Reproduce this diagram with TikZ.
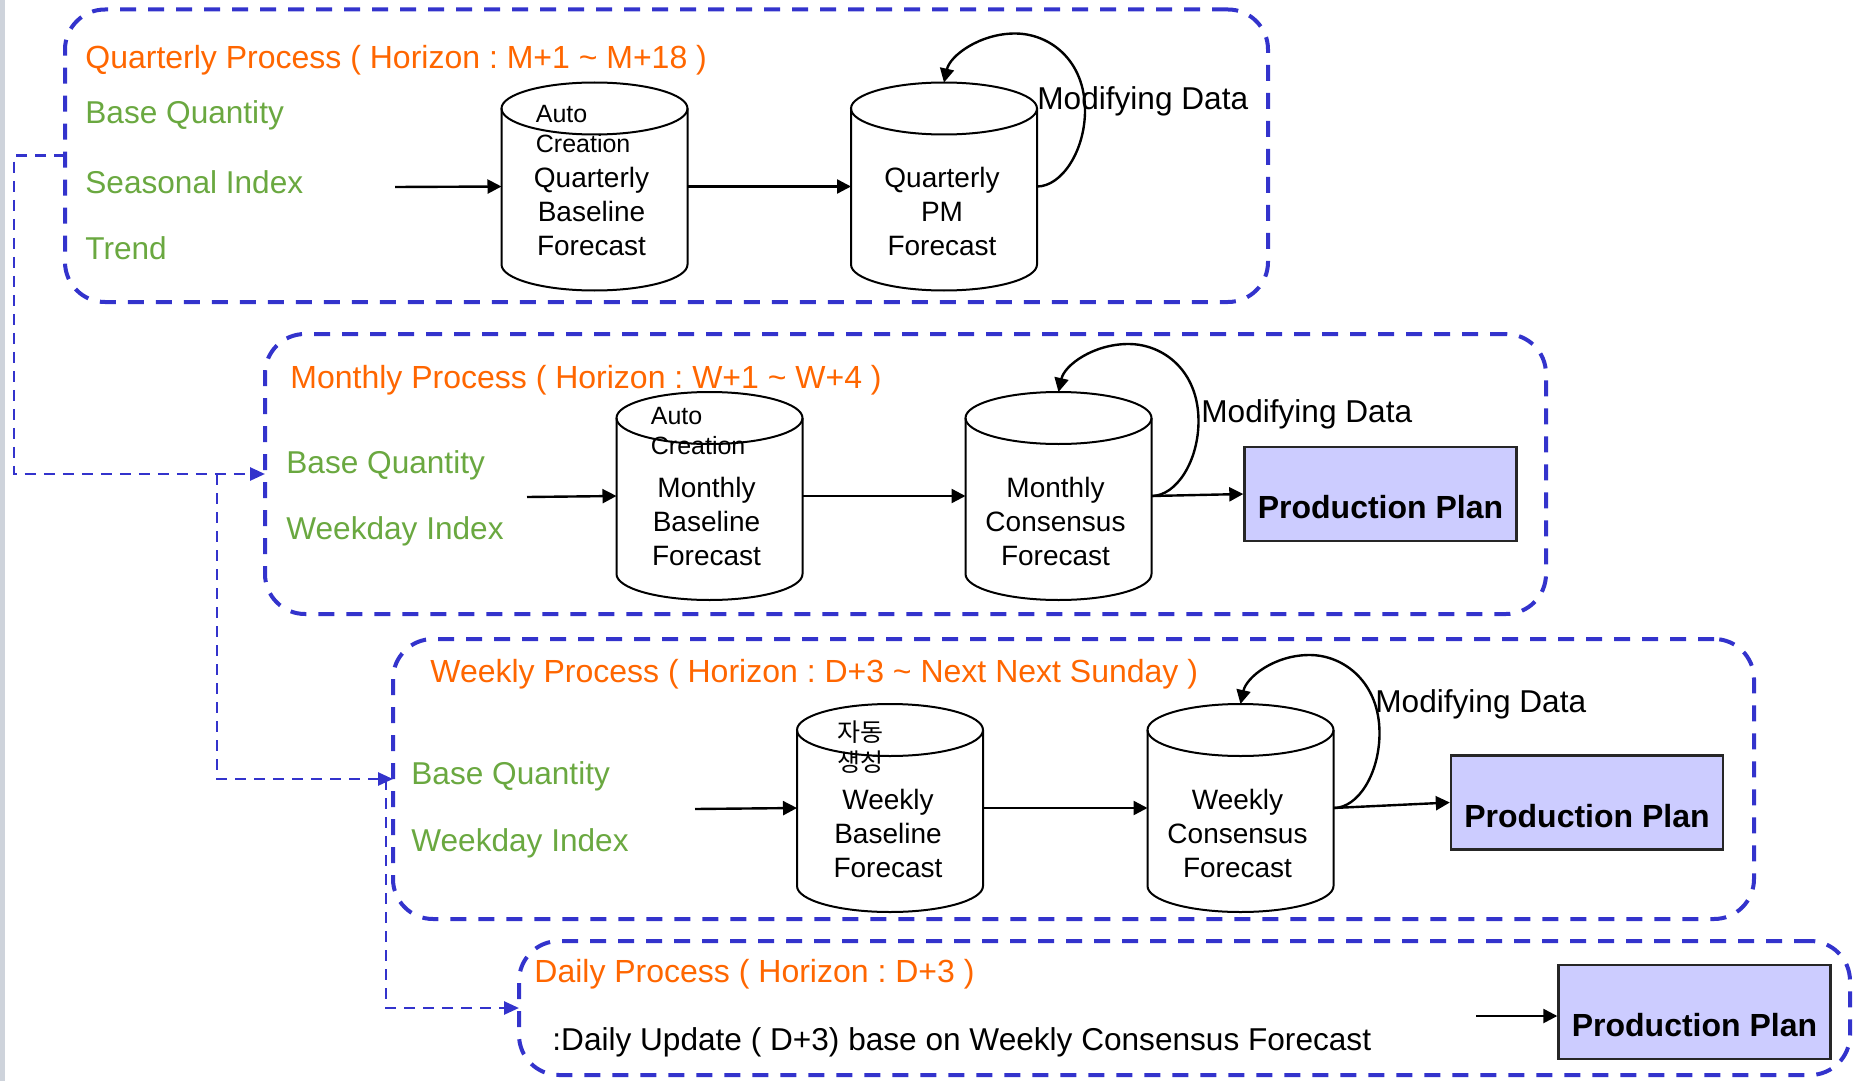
\documentclass[tikz,border=0pt]{standalone}
\usepackage{fontspec}
\setmainfont{Liberation Sans}
\newfontfamily\krfont{Noto Sans CJK KR}
\usepackage{xcolor}
\usetikzlibrary{arrows.meta}
\definecolor{procblue}{RGB}{51,51,204}
\definecolor{titleorange}{RGB}{255,102,0}
\definecolor{itemgreen}{RGB}{106,168,64}
\definecolor{planfill}{RGB}{204,204,255}
\definecolor{edgegray}{RGB}{206,211,219}
\frenchspacing

\begin{document}
\begin{tikzpicture}[x=0.5pt,y=-0.5pt,
  procbox/.style={draw=procblue,line width=2pt,dash pattern=on 8pt off 6pt,rounded corners=20pt,inner sep=0pt,outer sep=0pt},
  proctitle/.style={anchor=west,inner sep=0pt,text=titleorange,font=\fontsize{16pt}{19pt}\selectfont},
  inlabel/.style={anchor=west,inner sep=0pt,text=itemgreen,font=\fontsize{15.8pt}{19pt}\selectfont},
  cylbody/.style={minimum width=93pt,minimum height=104pt,inner sep=0pt,outer sep=0pt},
  cyltext/.style={align=center,inner sep=0pt,font=\fontsize{14pt}{17pt}\selectfont},
  autotext/.style={anchor=west,align=left,inner sep=0pt,font=\fontsize{12.5pt}{15pt}\selectfont},
  planbox/.style={draw=black!85,fill=planfill,line width=1.2pt,minimum width=136pt,minimum height=47pt,text height=24.5pt,text depth=0pt,inner sep=0pt,font=\fontsize{16pt}{19pt}\selectfont\bfseries},
  moddata/.style={anchor=west,inner sep=0pt,font=\fontsize{15.8pt}{19pt}\selectfont},
  flow/.style={line width=1.2pt,-{Triangle[length=7pt,width=7pt]}},
  feedlink/.style={draw=procblue,line width=1.35pt,dash pattern=on 5.5pt off 4pt,-{Triangle[length=7.5pt,width=6.5pt]}}]
\useasboundingbox (0,0) rectangle (1858,1081);
\fill[edgegray] (0,0) rectangle (5,1081);

% process frames
\node (qbox) at (666.5,155.75) [procbox,minimum width=601.5pt,minimum height=146.25pt] {};
\node (mbox) at (905.5,474) [procbox,minimum width=640.5pt,minimum height=140pt] {};
\node (wbox) at (1073.5,779) [procbox,minimum width=680.5pt,minimum height=140pt] {};
\node (dbox) at (1184.5,1008) [procbox,minimum width=665.5pt,minimum height=67pt] {};

\node (qtitle) at (85,60.5) [proctitle] {Quarterly Process ( Horizon : M+1 \textasciitilde{} M+18 )};
\node (mtitle) at (290,380.5) [proctitle] {Monthly Process ( Horizon : W+1 \textasciitilde{} W+4 )};
\node (wtitle) at (430,674.5) [proctitle] {Weekly Process ( Horizon : D+3 \textasciitilde{} Next Next Sunday )};
\node (dtitle) at (534,974.5) [proctitle] {Daily Process ( Horizon : D+3 )};

\node (qbase) at (85,115.5) [inlabel] {Base Quantity};
\node (qseas) at (85,182) [inlabel] {Seasonal Index};
\node (qtrend) at (85,248.5) [inlabel] {Trend};
\node (mbase) at (286,465.5) [inlabel] {Base Quantity};
\node (mweek) at (286,531.5) [inlabel] {Weekday Index};
\node (wbase) at (411,776.5) [inlabel] {Base Quantity};
\node (wweek) at (411,843.5) [inlabel] {Weekday Index};
\node (dnote) at (552,1042.5) [moddata] {:Daily Update ( D+3) base on Weekly Consensus Forecast};

% cylinders
\node (qb) at (594.5,186.5) [cylbody] {};
\node (qp) at (944,186.5) [cylbody] {};
\node (mb) at (709.5,496) [cylbody] {};
\node (mc) at (1058.5,496) [cylbody] {};
\node (wb) at (890,808) [cylbody] {};
\node (wc) at (1240.5,808) [cylbody] {};
\foreach \cyl in {qb,qp,mb,mc,wb,wc}{
  \draw[line width=1pt] ([yshift=-13pt]\cyl.north) ellipse (46.5pt and 13pt);
  \draw[line width=1pt] ([yshift=-13pt]\cyl.north west) -- ([yshift=13pt]\cyl.south west) arc (180:360:46.5pt and 13pt) -- ([yshift=-13pt]\cyl.north east);
}

\node (qba) at ([xshift=17pt,yshift=-23.25pt]qb.north west) [autotext] {Auto\\Creation};
\node (qbt) at ([xshift=-1.5pt,yshift=-64.5pt]qb.north) [cyltext] {Quarterly\\Baseline\\Forecast};
\node (qpt) at ([xshift=-1pt,yshift=-64.5pt]qp.north) [cyltext] {Quarterly\\PM\\Forecast};
\node (mba) at ([xshift=17pt,yshift=-19.75pt]mb.north west) [autotext] {Auto\\Creation};
\node (mbt) at ([xshift=-1.5pt,yshift=-64.5pt]mb.north) [cyltext] {Monthly\\Baseline\\Forecast};
\node (mct) at ([xshift=-1.5pt,yshift=-64.5pt]mc.north) [cyltext] {Monthly\\Consensus\\Forecast};
\node (wba) at ([xshift=20pt,yshift=-21.5pt]wb.north west) [autotext] {\krfont 자동\\\krfont 생성};
\node (wbt) at ([xshift=-1pt,yshift=-64.5pt]wb.north) [cyltext] {Weekly\\Baseline\\Forecast};
\node (wct) at ([xshift=-1.5pt,yshift=-64.5pt]wc.north) [cyltext] {Weekly\\Consensus\\Forecast};

% plans
\node (mplan) at (1380.5,494) [planbox] {Production Plan};
\node (wplan) at (1587,802.5) [planbox] {Production Plan};
\node (dplan) at (1694.5,1012) [planbox] {Production Plan};

\node (qmod) at (1037,101.5) [moddata] {Modifying Data};
\node (mmod) at (1201,414.5) [moddata] {Modifying Data};
\node (wmod) at (1375,704.5) [moddata] {Modifying Data};

% flows
\coordinate (qin) at (395,187);
\coordinate (min) at (527,497);
\coordinate (win) at (695,809);
\coordinate (din) at (1476,1016);
\draw[flow] (qin) -- (qb.west);
\draw[flow] (qb.east) -- (qp.west);
\draw[flow] (min) -- (mb.west);
\draw[flow] (mb.east) -- (mc.west);
\draw[flow] (mc.east) -- (mplan.west);
\draw[flow] (win) -- (wb.west);
\draw[flow] (wb.east) -- (wc.west);
\draw[flow] (wc.east) -- (wplan.west);
\draw[flow] (din) -- (din -| dplan.west);

\draw[flow] (qp.east) .. controls +(25,0) and +(0,40) .. ++(48,-76) .. controls +(0,-50) and +(35,0) .. ++(-70,-77) .. controls +(-35,0) and +(6,-27) .. (qp.north);
\draw[flow] (mc.east) .. controls +(25,0) and +(0,40) .. ++(47,-75) .. controls +(0,-50) and +(35,0) .. ++(-70,-77) .. controls +(-35,0) and +(6,-27) .. (mc.north);
\draw[flow] (wc.east) .. controls +(25,0) and +(0,40) .. ++(46,-75) .. controls +(0,-50) and +(35,0) .. ++(-70,-78) .. controls +(-35,0) and +(6,-27) .. (wc.north);

% feed between processes
\coordinate (msplit) at (217,474);
\coordinate (wsplit) at (386,779);
\draw[feedlink] (qbox.west) -- ++(-51,0) |- (mbox.west);
\draw[feedlink] (msplit) |- (wbox.west);
\draw[feedlink] (wsplit) |- (dbox.west);
\end{tikzpicture}
\end{document}
